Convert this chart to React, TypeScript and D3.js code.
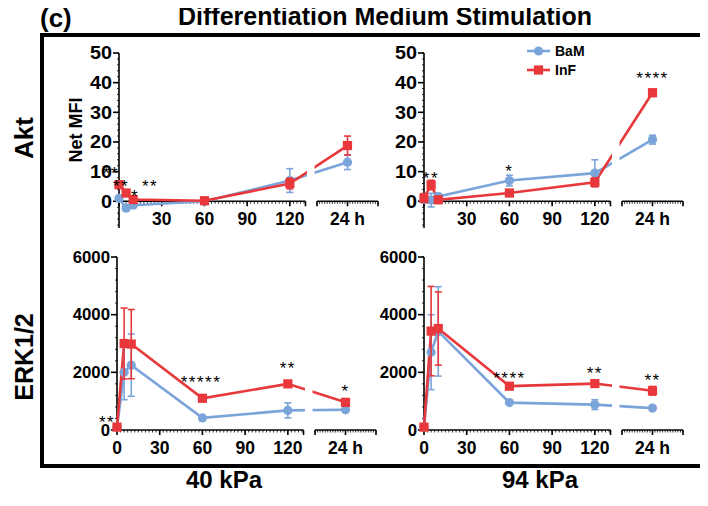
import React from "react";
import * as d3 from "d3";

// time points: five in minutes, then one at 24 h
const minuteTimes = [0, 5, 10, 60, 120];
const hourTime = 24;

const aktTicks = [0, 10, 20, 30, 40, 50];
const erkTicks = [0, 2000, 4000, 6000];
const topMinuteLabels = [30, 60, 90, 120];
const bottomMinuteLabels = [0, 30, 60, 90, 120];

const aktBaM40 = [1, -2.3, -1.3, 0, 7, 13.2];
const aktBaM40Sd = [0.6, 0.8, 0.6, 0.4, 4, 2.5];
const aktInF40 = [5.6, 2.8, 0.6, 0.2, 6, 18.8];
const aktInF40Sd = [0.6, 0.6, 0.4, 0.3, 1.8, 3.2];

const aktBaM94 = [0.6, 0.4, 1.6, 7, 9.5, 20.8];
const aktBaM94Sd = [1, 2.3, 1, 1.8, 4.5, 1.5];
const aktInF94 = [1.1, 5.5, 0.5, 2.8, 6.4, 36.6];
const aktInF94Sd = [1.5, 1.6, 0.6, 0.8, 1.5, 1.2];

const erkBaM40 = [100, 2000, 2250, 420, 680, 700];
const erkBaM40Sd = [40, 950, 1080, 50, 260, 50];
const erkInF40 = [100, 3000, 2980, 1100, 1600, 960];
const erkInF40Sd = [40, 1230, 1200, 60, 60, 120];

const erkBaM94 = [100, 2700, 3420, 950, 880, 760];
const erkBaM94Sd = [40, 1300, 1550, 50, 170, 50];
const erkInF94 = [100, 3430, 3520, 1520, 1610, 1360];
const erkInF94Sd = [40, 1550, 1270, 60, 50, 150];

// significance marks: t in minutes (or hours when h is set), v = height in data units
const aktStars40 = [
  { t: -5.6, v: 10.6, s: "**" },
  { t: 1.4, v: 6.5, s: "**" },
  { t: 11.2, v: 3.1, s: "*" },
  { t: 21.8, v: 6.5, s: "**" },
];
const aktStars94 = [
  { t: 4.9, v: 8.9, s: "**" },
  { t: 60, v: 11.5, s: "*" },
  { t: 24, h: true, v: 42.6, s: "****" },
];
const erkStars40 = [
  { t: -7, v: 415, s: "**" },
  { t: 59, v: 1770, s: "*****" },
  { t: 120, v: 2255, s: "**" },
  { t: 24, h: true, v: 1457, s: "*" },
];
const erkStars94 = [
  { t: 60, v: 1942, s: "****" },
  { t: 120, v: 2081, s: "**" },
  { t: 24, h: true, v: 1850, s: "**" },
];

const BLUE = "#7ba4da";
const RED = "#e8383b";
const FONT = "'Liberation Sans', Arial, sans-serif";

const Txt = ({ x, y, sx = 1, size, anchor = "start", weight = "bold", children, spacing = 0 }: any) => (
  <text
    transform={`translate(${x},${y}) scale(${sx},1)`}
    fontSize={size}
    fontWeight={weight}
    textAnchor={anchor}
    fontFamily={FONT}
    letterSpacing={spacing}
  >
    {children}
  </text>
);

const Panel = ({ left, yDomain, yRange, ticks, minorStep, xLabels, baM, baMSd, inF, inFSd, stars, tickSize, tickSx }: any) => {
  const x = d3.scaleLinear().domain([0, 131]).range([left, left + 186.5]);
  const xh = d3.scaleLinear().domain([18, 30]).range([left + 198, left + 259]);
  const y = d3.scaleLinear().domain(yDomain).range(yRange);
  const px = (i: number) => (i < minuteTimes.length ? x(minuteTimes[i]) : xh(hourTime));
  const axisY = y(0);
  const line = d3
    .line<number>()
    .x((_, i) => px(i))
    .y((d) => y(d));

  const minorY = d3.range(Math.ceil(yDomain[0] / minorStep) * minorStep, yDomain[1] + 1e-6, minorStep);
  const minorX = d3.range(0, 131, 2.5);
  const minorH = d3.range(18, 30.01, 0.5);

  const series = [
    { v: baM, sd: baMSd, c: BLUE, shape: "circle" },
    { v: inF, sd: inFSd, c: RED, shape: "square" },
  ];

  return (
    <g>
      {/* y axis */}
      <line x1={left} x2={left} y1={yRange[1]} y2={yRange[0]} stroke="#000" strokeWidth={1.6} />
      {minorY.map((m: number) => (
        <line key={"my" + m} x1={left - 2} x2={left} y1={y(m)} y2={y(m)} stroke="#000" strokeWidth={0.8} />
      ))}
      {ticks.map((t: number) => (
        <g key={"yt" + t}>
          <line x1={left - 6} x2={left} y1={y(t)} y2={y(t)} stroke="#000" strokeWidth={1.6} />
          <Txt x={left - 7} y={y(t) + tickSize * 0.36} size={tickSize} sx={tickSx} anchor="end">
            {t}
          </Txt>
        </g>
      ))}

      {/* x axis, broken in two segments */}
      <line x1={x(0)} x2={x(131)} y1={axisY} y2={axisY} stroke="#000" strokeWidth={1.6} />
      <line x1={xh(18)} x2={xh(30)} y1={axisY} y2={axisY} stroke="#000" strokeWidth={1.6} />
      {minorX.map((m: number) => (
        <line key={"mx" + m} x1={x(m)} x2={x(m)} y1={axisY} y2={axisY + 2.5} stroke="#000" strokeWidth={0.8} />
      ))}
      {minorH.map((m: number) => (
        <line key={"mh" + m} x1={xh(m)} x2={xh(m)} y1={axisY} y2={axisY + 2.5} stroke="#000" strokeWidth={0.8} />
      ))}
      {[0, 30, 60, 90, 120, 131].map((t) => (
        <line key={"xt" + t} x1={x(t)} x2={x(t)} y1={axisY} y2={axisY + 5} stroke="#000" strokeWidth={1.6} />
      ))}
      {[18, 24, 30].map((t) => (
        <line key={"ht" + t} x1={xh(t)} x2={xh(t)} y1={axisY} y2={axisY + 5} stroke="#000" strokeWidth={1.6} />
      ))}
      {xLabels.map((t: number) => (
        <Txt key={"xl" + t} x={x(t)} y={axisY + 24} size={17.5} anchor="middle">
          {t}
        </Txt>
      ))}
      <Txt x={xh(24)} y={axisY + 24} size={17.5} anchor="middle">
        24 h
      </Txt>

      {/* data lines */}
      {series.map((s) => (
        <path key={"l" + s.c} d={line(s.v) || ""} fill="none" stroke={s.c} strokeWidth={2.6} />
      ))}
      {/* white break in the lines across the axis gap */}
      <rect x={x(131) + 1.5} y={yRange[1] - 10} width={xh(18) - x(131) - 4} height={axisY - yRange[1] + 8} fill="#fff" />

      {series.map((s) =>
        s.v.map((v: number, i: number) => {
          const cx = px(i);
          const top = y(v + s.sd[i]);
          const bot = y(v - s.sd[i]);
          return (
            <g key={s.c + i}>
              <line x1={cx} x2={cx} y1={top} y2={bot} stroke={s.c} strokeWidth={1.6} />
              <line x1={cx - 3.5} x2={cx + 3.5} y1={top} y2={top} stroke={s.c} strokeWidth={1.6} />
              <line x1={cx - 3.5} x2={cx + 3.5} y1={bot} y2={bot} stroke={s.c} strokeWidth={1.6} />
              {s.shape === "circle" ? (
                <circle cx={cx} cy={y(v)} r={4.6} fill={s.c} />
              ) : (
                <rect x={cx - 4.6} y={y(v) - 4.6} width={9.2} height={9.2} fill={s.c} />
              )}
            </g>
          );
        })
      )}

      {stars.map((st: any, i: number) => (
        <Txt
          key={"st" + i}
          x={st.h ? xh(st.t) : x(st.t)}
          y={y(st.v) + 9.5}
          size={17}
          weight="normal"
          anchor="middle"
          spacing={1.5}
        >
          {st.s}
        </Txt>
      ))}
    </g>
  );
};

export default function App() {
  const aktYDomain = [-9, 50];
  const aktYRange = [228, 53];
  const erkYDomain = [0, 6000];
  const erkYRange = [430, 257];
  return (
    <svg width={700} height={498} style={{ display: "block", margin: "-8px 0 0 -8px", background: "#fff" }}>
      <Txt x={40} y={27} size={26}>
        (c)
      </Txt>
      <Txt x={385} y={25} size={25} anchor="middle">
        Differentiation Medium Stimulation
      </Txt>
      <path d="M708,35 H42 V466 H708" fill="none" stroke="#000" strokeWidth={4} />

      <g transform="translate(33,138) rotate(-90)">
        <text textAnchor="middle" fontSize={26} fontWeight="bold" fontFamily={FONT}>
          Akt
        </text>
      </g>
      <g transform="translate(33,357) rotate(-90)">
        <text textAnchor="middle" fontSize={25} fontWeight="bold" fontFamily={FONT}>
          ERK1/2
        </text>
      </g>
      <g transform="translate(82,130) rotate(-90)">
        <text textAnchor="middle" fontSize={18} fontWeight="bold" fontFamily={FONT}>
          Net MFI
        </text>
      </g>

      <Panel
        left={119}
        yDomain={aktYDomain}
        yRange={aktYRange}
        ticks={aktTicks}
        minorStep={2}
        xLabels={topMinuteLabels}
        baM={aktBaM40}
        baMSd={aktBaM40Sd}
        inF={aktInF40}
        inFSd={aktInF40Sd}
        stars={aktStars40}
        tickSize={18}
        tickSx={1.1}
      />
      <Panel
        left={424}
        yDomain={aktYDomain}
        yRange={aktYRange}
        ticks={aktTicks}
        minorStep={2}
        xLabels={topMinuteLabels}
        baM={aktBaM94}
        baMSd={aktBaM94Sd}
        inF={aktInF94}
        inFSd={aktInF94Sd}
        stars={aktStars94}
        tickSize={18}
        tickSx={1.1}
      />
      <Panel
        left={117}
        yDomain={erkYDomain}
        yRange={erkYRange}
        ticks={erkTicks}
        minorStep={400}
        xLabels={bottomMinuteLabels}
        baM={erkBaM40}
        baMSd={erkBaM40Sd}
        inF={erkInF40}
        inFSd={erkInF40Sd}
        stars={erkStars40}
        tickSize={16}
        tickSx={1.05}
      />
      <Panel
        left={424}
        yDomain={erkYDomain}
        yRange={erkYRange}
        ticks={erkTicks}
        minorStep={400}
        xLabels={bottomMinuteLabels}
        baM={erkBaM94}
        baMSd={erkBaM94Sd}
        inF={erkInF94}
        inFSd={erkInF94Sd}
        stars={erkStars94}
        tickSize={16}
        tickSx={1.05}
      />

      {/* legend */}
      <line x1={527} x2={550} y1={51} y2={51} stroke={BLUE} strokeWidth={2.6} />
      <circle cx={538.5} cy={51} r={4.6} fill={BLUE} />
      <Txt x={555} y={56} size={14}>
        BaM
      </Txt>
      <line x1={527} x2={550} y1={70} y2={70} stroke={RED} strokeWidth={2.6} />
      <rect x={533.9} y={65.4} width={9.2} height={9.2} fill={RED} />
      <Txt x={555} y={75} size={14}>
        InF
      </Txt>

      <Txt x={224} y={488} size={24} anchor="middle">
        40 kPa
      </Txt>
      <Txt x={540} y={488} size={24} anchor="middle">
        94 kPa
      </Txt>
    </svg>
  );
}
